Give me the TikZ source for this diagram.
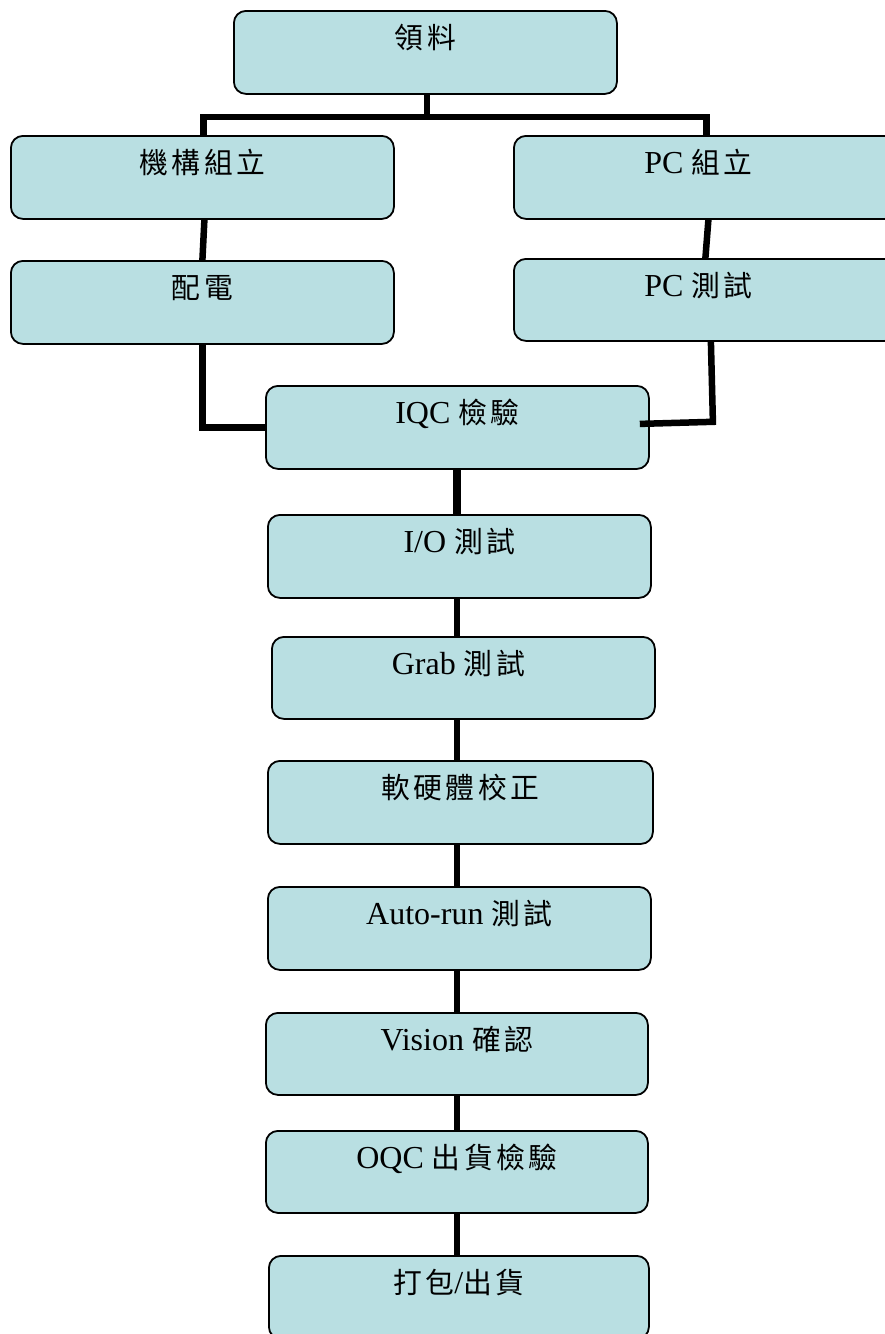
\documentclass[tikz,border=0pt]{standalone}
\usepackage{fontspec}
\setmainfont{Liberation Serif}
\newfontfamily\cjk{Noto Sans CJK TC}[Scale=0.9,LetterSpace=12]
\definecolor{boxfill}{HTML}{B9DFE2}
\begin{document}
\begin{tikzpicture}[x=1pt,y=-1pt,
  box/.style={draw=black, line width=1.8pt, fill=boxfill, rounded corners=12pt,
    minimum width=383pt, minimum height=83pt, anchor=north west, inner sep=0pt},
  lbl/.style={anchor=base, font=\fontsize{32}{36}\selectfont, inner sep=0pt},
  conn/.style={draw=black, line width=6.5pt},
  thick conn/.style={draw=black, line width=8pt}]
\useasboundingbox (0,0) rectangle (885,1334);

% boxes
\node[box] (lingliao) at (233,10) {};
\node[box] (jigou) at (10,135) {};
\node[box] (peidian) at (10,260) {};
\node[box] (pcA) at (513,135) {};
\node[box, minimum height=82pt] (pcB) at (513,258) {};
\node[box] (iqc) at (265,385) {};
\node[box] (io) at (267,514) {};
\node[box, minimum height=82pt] (grab) at (271,636) {};
\node[box, minimum width=385pt] (rjt) at (267,760) {};
\node[box] (auto) at (267,886) {};
\node[box, minimum width=382pt, minimum height=82pt] (vision) at (265,1012) {};
\node[box, minimum width=382pt, minimum height=82pt] (oqc) at (265,1130) {};
\node[box, minimum width=380pt] (dabao) at (268,1255) {};

% labels
\node[lbl] (t1) at ([yshift=-38pt]lingliao.north) {{\cjk 領料}};
\node[lbl] (t2) at ([yshift=-38pt]jigou.north) {{\cjk 機構組立}};
\node[lbl] (t3) at ([yshift=-38pt]peidian.north) {{\cjk 配電}};
\node[lbl] (t4) at ([yshift=-38pt,xshift=-7pt]pcA.north) {PC {\cjk 組立}};
\node[lbl] (t5) at ([yshift=-38pt,xshift=-7pt]pcB.north) {PC {\cjk 測試}};
\node[lbl] (t6) at ([yshift=-38pt]iqc.north) {IQC {\cjk 檢驗}};
\node[lbl] (t7) at ([yshift=-38pt]io.north) {I/O {\cjk 測試}};
\node[lbl] (t8) at ([yshift=-38pt,xshift=-5pt]grab.north) {Grab {\cjk 測試}};
\node[lbl] (t9) at ([yshift=-38pt]rjt.north) {{\cjk 軟硬體校正}};
\node[lbl] (t10) at ([yshift=-38pt]auto.north) {Auto-run {\cjk 測試}};
\node[lbl] (t11) at ([yshift=-38pt]vision.north) {Vision {\cjk 確認}};
\node[lbl] (t12) at ([yshift=-38pt]oqc.north) {OQC {\cjk 出貨檢驗}};
\node[lbl] (t13) at ([yshift=-38pt]dabao.north) {{\cjk 打包}/{\cjk 出貨}};

% connectors
\coordinate (split) at (427,117);
\coordinate (spine) at (457,0);
\draw[conn] (lingliao.south -| split) -- (split);
\draw[conn] (split) -| ([xshift=1pt]jigou.north);
\draw[conn] (split) -| ([xshift=1pt]pcA.north);
\draw[conn] ([xshift=2pt]jigou.south) -- ([xshift=0pt]peidian.north);
\draw[conn] ([xshift=3pt]pcA.south) -- ([xshift=0pt]pcB.north);
\draw[conn] ([xshift=0pt]peidian.south) |- (iqc.west);
\draw[conn] ([xshift=5.5pt]pcB.south) -- ([xshift=7.5pt,yshift=-80pt]pcB.south) -- ([xshift=-10pt,yshift=3.5pt]iqc.east);
\draw[thick conn] (iqc.south -| spine) -- (io.north -| spine);
\draw[conn] (io.south -| spine) -- (grab.north -| spine);
\draw[conn] (grab.south -| spine) -- (rjt.north -| spine);
\draw[conn] (rjt.south -| spine) -- (auto.north -| spine);
\draw[conn] (auto.south -| spine) -- (vision.north -| spine);
\draw[conn] (vision.south -| spine) -- (oqc.north -| spine);
\draw[conn] (oqc.south -| spine) -- (dabao.north -| spine);
\end{tikzpicture}
\end{document}
